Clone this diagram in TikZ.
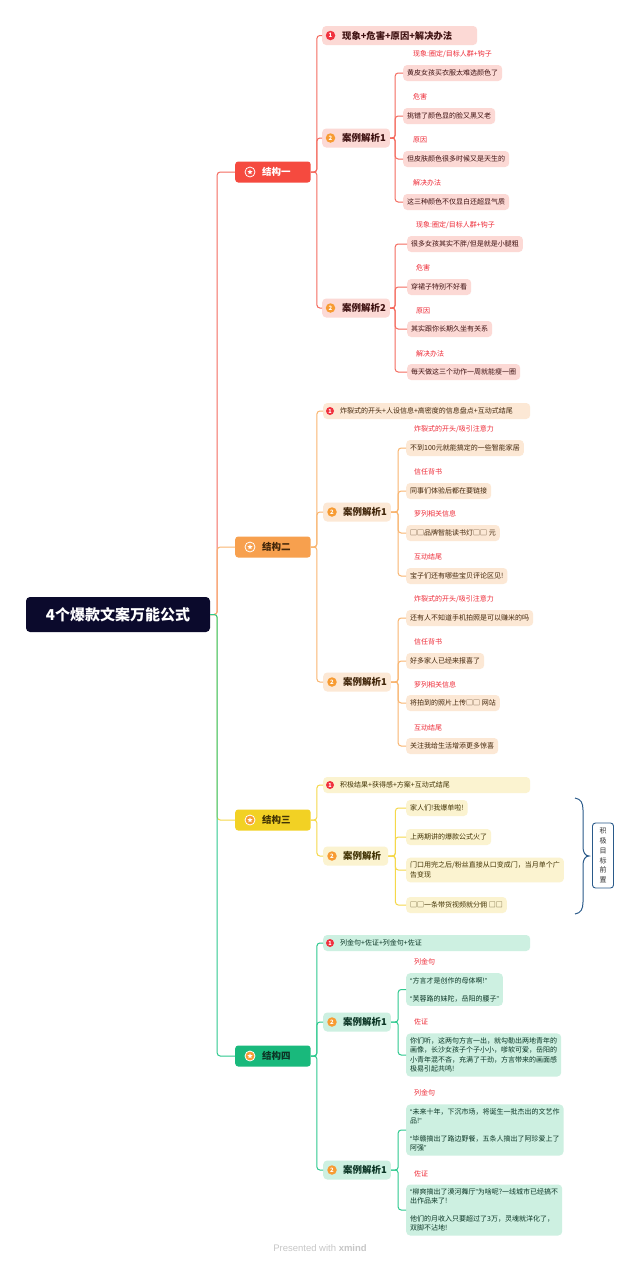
\documentclass[tikz,border=0pt]{standalone}
\usepackage{fontspec}
\setmainfont{Noto Sans CJK SC}
\newfontfamily\latinfont{Liberation Sans}
\usetikzlibrary{shapes.geometric}
\newcommand\qo{{\latinfont “}}
\newcommand\qc{{\latinfont ”}}
\definecolor{navy}{HTML}{0B0A2C}
\definecolor{sred}{HTML}{F54A3F}
\definecolor{lred}{HTML}{F46A5E}
\definecolor{pred}{HTML}{FCD9D5}
\definecolor{tred}{HTML}{3F1212}
\definecolor{sor}{HTML}{F7A04E}
\definecolor{lor}{HTML}{F9B56F}
\definecolor{por}{HTML}{FCE8D5}
\definecolor{tor}{HTML}{42260A}
\definecolor{syel}{HTML}{F2D124}
\definecolor{lyel}{HTML}{F5D84A}
\definecolor{pyel}{HTML}{FBF3D0}
\definecolor{tyel}{HTML}{423405}
\definecolor{sgrn}{HTML}{19B97C}
\definecolor{lgrn}{HTML}{2DC98E}
\definecolor{pgrn}{HTML}{CDF0E1}
\definecolor{tgrn}{HTML}{0C3626}
\definecolor{labred}{HTML}{EE2A36}
\definecolor{numred}{HTML}{F0323F}
\definecolor{numor}{HTML}{F79B32}
\definecolor{braceblue}{HTML}{2A5A8A}
\tikzset{
 root/.style={fill=navy, text=white, rounded corners=4pt, minimum width=184pt, minimum height=35pt, inner sep=0pt, font=\fontsize{15}{18}\selectfont\bfseries},
 struct/.style={rounded corners=3pt, minimum height=21pt, inner xsep=20pt, inner ysep=0pt, anchor=west, font=\fontsize{9.5}{11}\selectfont\bfseries},
 sicon/.style={circle, draw=white, line width=0.8pt, minimum size=10pt, inner sep=0pt},
 sstar/.style={star, star points=5, star point ratio=2.3, fill=white, minimum size=5.5pt, inner sep=0pt},
 cbox/.style={rounded corners=4pt, minimum height=19pt, inner xsep=4pt, inner ysep=0pt, anchor=west, font=\fontsize{9.5}{11}\selectfont\bfseries},
 headA/.style={rounded corners=4pt, minimum height=19pt, inner xsep=6pt, inner ysep=0pt, text width=143pt, align=left, anchor=west, font=\fontsize{9.3}{11}\selectfont\bfseries},
 headB/.style={rounded corners=4pt, minimum height=16pt, inner xsep=6pt, inner ysep=0pt, text width=195pt, align=left, anchor=west, font=\fontsize{7}{9}\selectfont},
 leaf/.style={rounded corners=4pt, minimum height=16pt, inner xsep=4pt, inner ysep=4pt, anchor=west, align=left, font=\fontsize{7}{9.5}\selectfont},
 lab/.style={anchor=west, inner sep=0pt, text=labred, font=\fontsize{7}{9}\selectfont},
 numc/.style={circle, inner sep=0pt, minimum size=9.5pt, text=white, font=\fontsize{6}{6}\selectfont\bfseries},
 numcs/.style={circle, inner sep=0pt, minimum size=8pt, text=white, font=\fontsize{5.5}{6}\selectfont\bfseries},
 link/.style={rounded corners=3pt, line width=1pt},
}
\newcommand\linkto[4][6pt]{\draw[link,#2] (#3.east) -- ([xshift=#1]#3.east) |- (#4.west);}
\begin{document}
\begin{tikzpicture}[x=1pt,y=-1pt]
\useasboundingbox (0,0) rectangle (640,1267);
\fill[white] (0,0) rectangle (640,1267);

% root
\node[root] (root) at (118,614.5) {4个爆款文案万能公式};

% ===== structure 1 =====
\node[struct, fill=sred, text=white] (s1) at (235,172) {\hspace*{7pt}结构一};
\node[sicon, fill=sred] (s1i) at ([xshift=15pt]s1.west) {};
\node[sstar] (s1s) at (s1i) {};
\node[headA, fill=pred, text=tred] (s1h) at (322,35.5) {\hspace*{14pt}现象+危害+原因+解决办法};
\node[numc, fill=numred] (s1hn) at ([xshift=8.5pt]s1h.west) {1};
\node[cbox, fill=pred, text=tred] (s1a) at (322,138) {\hspace*{16pt}案例解析1};
\node[numc, fill=numor] (s1an) at ([xshift=8.5pt]s1a.west) {2};
\node[cbox, fill=pred, text=tred] (s1b) at (322,308) {\hspace*{16pt}案例解析2};
\node[numc, fill=numor] (s1bn) at ([xshift=8.5pt]s1b.west) {2};

\node[lab] (s1al1) at (413,54) {现象:圈定/目标人群+钩子};
\node[leaf, fill=pred, text=tred] (s1a1) at (403,73) {黄皮女孩买衣服太难选颜色了};
\node[lab] (s1al2) at (413,97) {危害};
\node[leaf, fill=pred, text=tred] (s1a2) at (403,116) {挑错了颜色显的脸又黑又老};
\node[lab] (s1al3) at (413,140) {原因};
\node[leaf, fill=pred, text=tred] (s1a3) at (403,159) {但皮肤颜色很多时候又是天生的};
\node[lab] (s1al4) at (413,183) {解决办法};
\node[leaf, fill=pred, text=tred] (s1a4) at (403,202) {这三种颜色不仅显白还超显气质};

\node[lab] (s1bl1) at (416,225) {现象:圈定/目标人群+钩子};
\node[leaf, fill=pred, text=tred] (s1b1) at (407,244) {很多女孩其实不胖/但是就是小腿粗};
\node[lab] (s1bl2) at (416,268) {危害};
\node[leaf, fill=pred, text=tred] (s1b2) at (407,287) {穿裙子特别不好看};
\node[lab] (s1bl3) at (416,311) {原因};
\node[leaf, fill=pred, text=tred] (s1b3) at (407,329) {其实跟你长期久坐有关系};
\node[lab] (s1bl4) at (416,354) {解决办法};
\node[leaf, fill=pred, text=tred] (s1b4) at (407,372) {每天做这三个动作一周就能瘦一圈};

% ===== structure 2 =====
\node[struct, fill=sor, text=tor] (s2) at (235,547) {\hspace*{7pt}结构二};
\node[sicon, fill=sor] (s2i) at ([xshift=15pt]s2.west) {};
\node[sstar] (s2s) at (s2i) {};
\node[headB, fill=por, text=tor] (s2h) at (323,411) {\hspace*{11pt}炸裂式的开头+人设信息+高密度的信息盘点+互动式结尾};
\node[numcs, fill=numred] (s2hn) at ([xshift=7pt]s2h.west) {1};
\node[cbox, fill=por, text=tor] (s2a) at (323,512) {\hspace*{16pt}案例解析1};
\node[numc, fill=numor] (s2an) at ([xshift=9pt]s2a.west) {2};
\node[cbox, fill=por, text=tor] (s2b) at (323,682) {\hspace*{16pt}案例解析1};
\node[numc, fill=numor] (s2bn) at ([xshift=9pt]s2b.west) {2};

\node[lab] (s2al1) at (414,429) {炸裂式的开头/吸引注意力};
\node[leaf, fill=por, text=tor] (s2a1) at (406,448) {不到100元就能搞定的一些智能家居};
\node[lab] (s2al2) at (414,472) {信任背书};
\node[leaf, fill=por, text=tor] (s2a2) at (406,491) {同事们体验后都在要链接};
\node[lab] (s2al3) at (414,514) {罗列相关信息};
\node[leaf, fill=por, text=tor] (s2a3) at (406,533) {□□品牌智能读书灯□□ 元};
\node[lab] (s2al4) at (414,557) {互动结尾};
\node[leaf, fill=por, text=tor] (s2a4) at (406,576) {宝子们还有哪些宝贝评论区见!};

\node[lab] (s2bl1) at (414,599) {炸裂式的开头/吸引注意力};
\node[leaf, fill=por, text=tor] (s2b1) at (406,618) {还有人不知道手机拍照是可以赚米的吗};
\node[lab] (s2bl2) at (414,642) {信任背书};
\node[leaf, fill=por, text=tor] (s2b2) at (406,661) {好多家人已经来报喜了};
\node[lab] (s2bl3) at (414,685) {罗列相关信息};
\node[leaf, fill=por, text=tor] (s2b3) at (406,703) {将拍到的照片上传□□ 网站};
\node[lab] (s2bl4) at (414,728) {互动结尾};
\node[leaf, fill=por, text=tor] (s2b4) at (406,746) {关注我给生活增添更多惊喜};

% ===== structure 3 =====
\node[struct, fill=syel, text=tyel] (s3) at (235,820) {\hspace*{7pt}结构三};
\node[sicon, fill=numor] (s3i) at ([xshift=15pt]s3.west) {};
\node[sstar] (s3s) at (s3i) {};
\node[headB, fill=pyel, text=tyel] (s3h) at (323,785) {\hspace*{11pt}积极结果+获得感+方案+互动式结尾};
\node[numcs, fill=numred] (s3hn) at ([xshift=7pt]s3h.west) {1};
\node[cbox, fill=pyel, text=tyel] (s3a) at (323,856) {\hspace*{16pt}案例解析\hspace*{3pt}};
\node[numc, fill=numor] (s3an) at ([xshift=9pt]s3a.west) {2};
\node[leaf, fill=pyel, text=tyel] (s3a1) at (406,808) {家人们!我爆单啦!};
\node[leaf, fill=pyel, text=tyel] (s3a2) at (406,837) {上两期讲的爆款公式火了};
\node[leaf, fill=pyel, text=tyel, font=\fontsize{7}{10}\selectfont] (s3a3) at (406,870) {门口用完之后/粉丝直接从口变成门，当月单个广\\告变现};
\node[leaf, fill=pyel, text=tyel] (s3a4) at (406,905) {□□一条带货视频就分佣 □□};
\draw[braceblue, line width=1pt] (575,798) .. controls (581,799) and (583,803) .. (583,810) -- (583,847) .. controls (583,852) and (585,856) .. (589,856) .. controls (585,856) and (583,860) .. (583,865) -- (583,902) .. controls (583,909) and (581,913) .. (575,914);
\node[draw=braceblue, line width=0.9pt, fill=white, rounded corners=3pt, minimum width=21pt, minimum height=65pt, inner sep=0pt, align=center, text=black!80, font=\fontsize{7}{9.7}\selectfont] (s3note) at (603,855.5) {积\\极\\目\\标\\前\\置};

% ===== structure 4 =====
\node[struct, fill=sgrn, text=tgrn] (s4) at (235,1056) {\hspace*{7pt}结构四};
\node[sicon, fill=numor] (s4i) at ([xshift=15pt]s4.west) {};
\node[sstar] (s4s) at (s4i) {};
\node[headB, fill=pgrn, text=tgrn] (s4h) at (323,943) {\hspace*{11pt}列金句+佐证+列金句+佐证};
\node[numcs, fill=numred] (s4hn) at ([xshift=7pt]s4h.west) {1};
\node[cbox, fill=pgrn, text=tgrn] (s4a) at (323,1022) {\hspace*{16pt}案例解析1};
\node[numc, fill=numor] (s4an) at ([xshift=9pt]s4a.west) {2};
\node[cbox, fill=pgrn, text=tgrn] (s4b) at (323,1170) {\hspace*{16pt}案例解析1};
\node[numc, fill=numor] (s4bn) at ([xshift=9pt]s4b.west) {2};

\node[lab] (s4al1) at (414,962) {列金句};
\node[leaf, fill=pgrn, text=tgrn] (s4a1) at (406,989.5) {\qo 方言才是创作的母体啊!\qc\\[8.5pt]\qo 芙蓉路的妹陀，岳阳的腰子\qc};
\node[lab] (s4al2) at (414,1022) {佐证};
\node[leaf, fill=pgrn, text=tgrn] (s4a2) at (406,1055) {你们听，这两句方言一出，就勾勒出两地青年的\\画像，长沙女孩子个子小小，嗲软可爱，岳阳的\\小青年混不吝，充满了干劲，方言带来的画面感\\极易引起共鸣!};
\node[lab] (s4bl1) at (414,1093) {列金句};
\node[leaf, fill=pgrn, text=tgrn] (s4b1) at (406,1130) {\qo 未来十年，下沉市场，将诞生一批杰出的文艺作\\品!\qc\\[8pt]\qo 毕赣搞出了路边野餐，五条人搞出了阿珍爱上了\\阿强\qc};
\node[lab] (s4bl2) at (414,1174) {佐证};
\node[leaf, fill=pgrn, text=tgrn] (s4b2) at (406,1210) {\qo 柳爽搞出了漠河舞厅\qc 为啥呢?一线城市已经搞不\\出作品来了!\\[8pt]他们的月收入只要超过了3万，灵魂就洋化了，\\双脚不沾地!};

% ===== connectors =====
\linkto[7pt]{lred}{root}{s1}
\linkto[7pt]{lor}{root}{s2}
\linkto[7pt]{lyel}{root}{s3}
\linkto[7pt]{lgrn}{root}{s4}

\linkto{lred}{s1}{s1h}
\linkto{lred}{s1}{s1a}
\linkto{lred}{s1}{s1b}
\foreach \n in {1,2,3,4}{\linkto[5pt]{lred}{s1a}{s1a\n}}
\foreach \n in {1,2,3,4}{\linkto[5pt]{lred}{s1b}{s1b\n}}

\linkto{lor}{s2}{s2h}
\linkto{lor}{s2}{s2a}
\linkto{lor}{s2}{s2b}
\foreach \n in {1,2,3,4}{\linkto[7pt]{lor}{s2a}{s2a\n}}
\foreach \n in {1,2,3,4}{\linkto[7pt]{lor}{s2b}{s2b\n}}

\linkto{lyel}{s3}{s3h}
\linkto{lyel}{s3}{s3a}
\foreach \n in {1,2,3,4}{\linkto[7pt]{lyel}{s3a}{s3a\n}}

\linkto{lgrn}{s4}{s4h}
\linkto{lgrn}{s4}{s4a}
\linkto{lgrn}{s4}{s4b}
\foreach \n in {1,2}{\linkto[7pt]{lgrn}{s4a}{s4a\n}}
\foreach \n in {1,2}{\linkto[7pt]{lgrn}{s4b}{s4b\n}}

\node[text=black!22, font=\latinfont\fontsize{9.5}{11}\selectfont] (pw) at (320,1248) {Presented with \textbf{xmind}};
\end{tikzpicture}
\end{document}
